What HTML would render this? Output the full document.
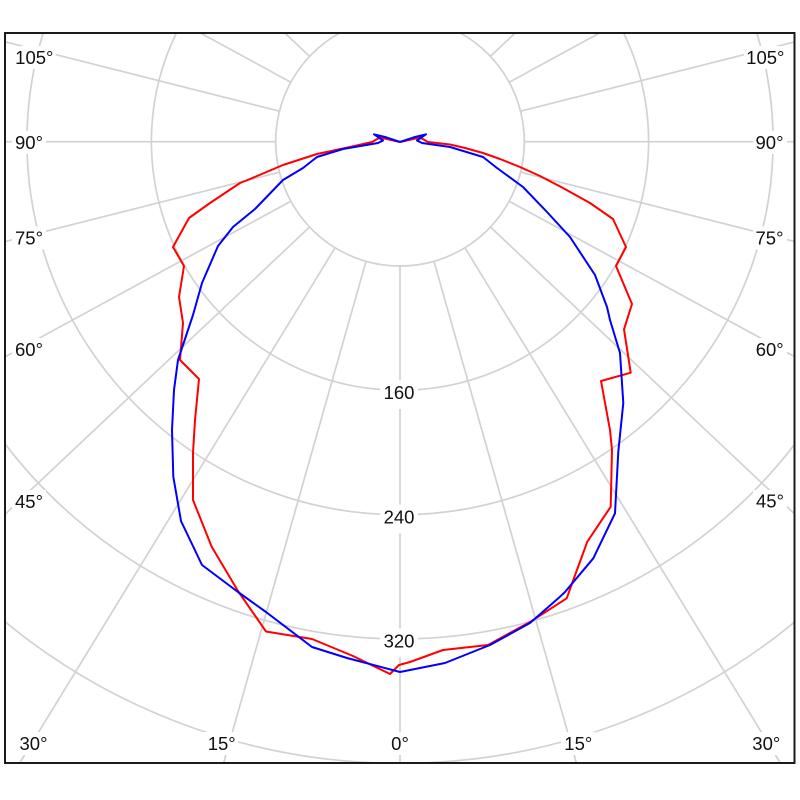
<!DOCTYPE html>
<html>
<head>
<meta charset="utf-8">
<style>
html,body{margin:0;padding:0;background:#fff;width:800px;height:800px;overflow:hidden;}
svg{display:block;}
text{font-family:"Liberation Sans","DejaVu Sans",sans-serif;fill:#111;}
</style>
</head>
<body>
<svg width="800" height="800" viewBox="0 0 800 800" xmlns="http://www.w3.org/2000/svg">
<defs>
<clipPath id="fr"><rect x="5" y="33" width="790" height="730"/></clipPath>
</defs>
<rect x="0" y="0" width="800" height="800" fill="#fff"/>
<g clip-path="url(#fr)">
<g fill="none" stroke="#d2d2d2" stroke-width="1.7">
<circle cx="400" cy="141.7" r="124.3"/>
<path d="M176.4,33 A248.6,248.6 0 1 0 623.6,33"/>
<path d="M43.2,33 A373,373 0 1 0 756.8,33"/>
<path d="M5,443.8 A497.3,497.3 0 0 0 795,443.8"/>
<path d="M5,621.7 A621.6,621.6 0 0 0 795,621.7"/>
<line x1="400" y1="266" x2="400" y2="763"/>
<line x1="366.05" y1="261.3" x2="223.6" y2="763"/>
<line x1="335.1" y1="247.7" x2="19.7" y2="763"/>
<line x1="309.6" y1="227.0" x2="5" y2="514.3"/>
<line x1="290.8" y1="201.2" x2="5" y2="356.8"/>
<line x1="279.5" y1="172.2" x2="5" y2="241.6"/>
<line x1="275.7" y1="141.7" x2="5" y2="141.7"/>
<line x1="279.5" y1="111.2" x2="5" y2="41.8"/>
<line x1="290.8" y1="82.2" x2="200.4" y2="33"/>
<line x1="309.6" y1="56.4" x2="284.8" y2="33"/>
<line x1="433.95" y1="261.3" x2="576.4" y2="763"/>
<line x1="464.9" y1="247.7" x2="780.3" y2="763"/>
<line x1="490.4" y1="227.0" x2="795" y2="514.3"/>
<line x1="509.2" y1="201.2" x2="795" y2="356.8"/>
<line x1="520.5" y1="172.2" x2="795" y2="241.6"/>
<line x1="524.3" y1="141.7" x2="795" y2="141.7"/>
<line x1="520.5" y1="111.2" x2="795" y2="41.8"/>
<line x1="509.2" y1="82.2" x2="599.6" y2="33"/>
<line x1="490.4" y1="56.4" x2="515.2" y2="33"/>
</g>
<!-- label backgrounds -->
<g fill="#fff">
<rect x="380" y="380" width="38" height="29"/>
<rect x="380" y="504.5" width="38" height="29"/>
<rect x="380" y="628.5" width="38" height="29"/>
<rect x="13" y="46" width="43" height="23"/>
<rect x="12" y="131" width="34" height="23"/>
<rect x="12" y="226.5" width="34" height="23"/>
<rect x="12" y="338" width="34" height="23"/>
<rect x="12" y="490" width="34" height="23"/>
<rect x="744" y="46" width="43" height="23"/>
<rect x="753" y="131" width="34" height="23"/>
<rect x="753" y="226.5" width="34" height="23"/>
<rect x="753" y="338" width="34" height="23"/>
<rect x="753" y="490" width="34" height="23"/>
<rect x="16" y="732" width="34" height="23"/>
<rect x="204" y="732" width="34" height="23"/>
<rect x="389" y="732" width="22" height="23"/>
<rect x="561" y="732" width="34" height="23"/>
<rect x="749" y="732" width="34" height="23"/>
</g>
<g text-anchor="middle" dominant-baseline="central" font-size="18.5">
<text x="399" y="392.5">160</text>
<text x="399" y="517">240</text>
<text x="399" y="641">320</text>
<text x="34.3" y="57.5">105°</text>
<text x="29" y="142.5">90°</text>
<text x="29" y="238">75°</text>
<text x="29" y="349.5">60°</text>
<text x="29" y="501.5">45°</text>
<text x="765.3" y="57.5">105°</text>
<text x="769.5" y="142.5">90°</text>
<text x="769.5" y="238">75°</text>
<text x="769.7" y="349.5">60°</text>
<text x="770" y="501">45°</text>
<text x="33.5" y="743.5">30°</text>
<text x="221.7" y="743.5">15°</text>
<text x="400" y="743.5">0°</text>
<text x="578.3" y="743.5">15°</text>
<text x="766.3" y="743.5">30°</text>
</g>
<polyline fill="none" stroke="#ff0000" stroke-width="2" stroke-linejoin="round" points="400,142 380,137.5 372,142 350,147 317,154 283,165 250,179 240,183 210,203 189,218 173,247 184,266 179,297 183,323 180,360 199,379 195,420 193,453 193,500 211.7,546.7 238,591 266,631.5 312,639 353,656 390,674 399,665 410,662 443,650 488,645 530,622 566.7,598.3 573.3,580 587.3,541.7 610.7,506.7 612,450 610,430 601,381 630.7,372.7 624,329.3 632,304 616,266 626,247 613,219 590,203 563,188 540,176 520,167 500,159 483,153 465,148 450,144.5 428,142 420,137.5 400,142"/>
<polyline fill="none" stroke="#0000ff" stroke-width="2" stroke-linejoin="round" points="400,142 385,137 374,134.3 383,140.5 378,143 343,149 317,157 303,168 283,180 255,209 233,227 218,246 202,283 193,315 178,360 174,390 172,430 173.3,476.7 181,521 202,565 238,592 266,612 312,647 347,658 400,672 445,663 490,645 530,623 560,596.7 565,592 593.3,558.3 615,513.3 618.3,451.7 623.3,403 620,353 610,320 607,307 595,275 570,237 547,212 523,187 497,168 483,157 450,147 422,143 417,140.5 426,134.3 415,137 400,142"/>
</g>
<rect x="5" y="33" width="789.5" height="730" fill="none" stroke="#1a1a1a" stroke-width="2"/>
</svg>
</body>
</html>
